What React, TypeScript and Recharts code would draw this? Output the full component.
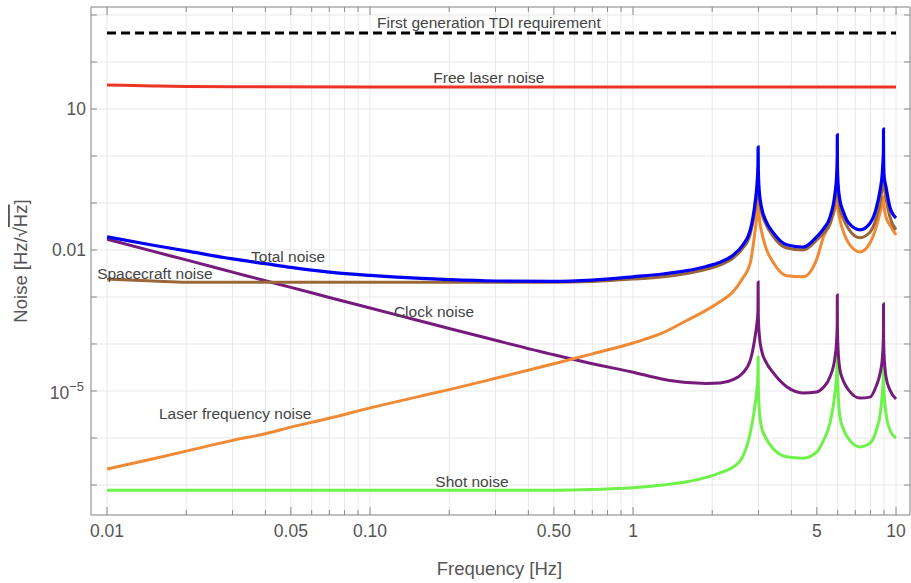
import React from 'react';
import {
  LineChart,
  Line,
  XAxis,
  YAxis,
  CartesianGrid,
  ReferenceDot,
} from 'recharts';

// frequency grid (Hz) shared by the noise curves
const freqs = [
  0.01, 0.015, 0.02, 0.03, 0.04, 0.05, 0.07, 0.1, 0.15, 0.2, 0.3,
  0.5, 0.7, 1, 1.3, 1.6, 1.9, 2.14, 2.4, 2.6, 2.79,
  2.91, 2.96, 2.985, 2.99, 2.995, 3.02, 3.08, 3.2, 3.4, 3.84,
  4.43, 4.99, 5.3, 5.61, 5.86, 5.94, 5.975, 5.98, 5.985, 6.02,
  6.12, 6.3, 6.6, 7.3, 7.96, 8.4, 8.7, 8.87, 8.94, 8.955,
  8.96, 8.965, 9.0, 9.16, 9.48, 10,
];

const totalNoise = [
  0.019, 0.0126, 0.00955, 0.00646, 0.00513, 0.00427, 0.00339, 0.00288, 0.00251, 0.00234, 0.00219,
  0.00214, 0.00229, 0.00269, 0.00309, 0.00363, 0.00447, 0.0055, 0.00776, 0.0123, 0.0263,
  0.1, 0.251, 0.631, 1.55, 0.501, 0.178, 0.0813, 0.0417, 0.024, 0.0129,
  0.0115, 0.019, 0.0282, 0.0501, 0.162, 0.355, 0.794, 2.82, 0.708, 0.251,
  0.115, 0.0661, 0.038, 0.0269, 0.0372, 0.0759, 0.191, 0.447, 1.0, 1.26,
  3.72, 1.12, 0.398, 0.219, 0.0813, 0.0479,
];

const spacecraftNoise = [
  0.0024, 0.00219, 0.00207, 0.00206, 0.00206, 0.00206, 0.00206, 0.00206, 0.00206, 0.00206, 0.00206,
  0.00206, 0.00214, 0.0024, 0.00269, 0.00316, 0.00389, 0.00479, 0.00676, 0.0105, 0.0219,
  0.0708, 0.158, 0.282, 0.339, 0.251, 0.126, 0.0646, 0.0355, 0.02, 0.011,
  0.01, 0.0162, 0.0229, 0.0355, 0.115, 0.251, 0.562, 0.912, 0.501, 0.178,
  0.0759, 0.0468, 0.0282, 0.0182, 0.024, 0.0468, 0.105, 0.251, 0.501, 0.708,
  0.912, 0.562, 0.251, 0.129, 0.0501, 0.0269,
];

const clockNoise = [
  0.017, 0.00933, 0.00617, 0.00339, 0.00221, 0.0016, 0.000977, 0.000582, 0.000324, 0.000214, 0.00012,
  5.89e-5, 3.8e-5, 2.51e-5, 1.78e-5, 1.51e-5, 1.45e-5, 1.48e-5, 1.74e-5, 2.34e-5, 4.47e-5,
  1.41e-4, 2.82e-4, 5.01e-4, 2.09e-3, 3.98e-4, 1.58e-4, 7.41e-5, 4.17e-5, 2.51e-5, 1.23e-5,
  9.12e-6, 9.55e-6, 1.2e-5, 2e-5, 5.25e-5, 1.12e-4, 2.51e-4, 1.1e-3, 2.24e-4, 7.94e-5,
  2.82e-5, 1.66e-5, 1.05e-5, 7.08e-6, 7.41e-6, 1.26e-5, 2.4e-5, 5.01e-5, 1.12e-4, 2e-4,
  7.08e-4, 1.78e-4, 6.31e-5, 2e-5, 1.05e-5, 6.76e-6,
];

const laserFreqNoise = [
  2.19e-7, 3.63e-7, 5.25e-7, 8.91e-7, 1.23e-6, 1.7e-6, 2.63e-6, 4.37e-6, 7.41e-6, 1.07e-5, 1.86e-5,
  3.8e-5, 6.17e-5, 1.05e-4, 1.74e-4, 3.16e-4, 5.25e-4, 7.94e-4, 1.29e-3, 2.4e-3, 5.25e-3,
  0.0251, 0.0562, 0.105, 0.135, 0.1, 0.0501, 0.0251, 0.0112, 5.62e-3, 2.82e-3,
  2.69e-3, 6.31e-3, 0.0191, 0.0372, 0.0759, 0.105, 0.126, 0.135, 0.112, 0.0759,
  0.0437, 0.0251, 0.0141, 9.12e-3, 0.0141, 0.0302, 0.0631, 0.1, 0.12, 0.132,
  0.135, 0.12, 0.0891, 0.0501, 0.0339, 0.0209,
];

const shotNoise = [
  7.76e-8, 7.76e-8, 7.76e-8, 7.76e-8, 7.76e-8, 7.76e-8, 7.76e-8, 7.76e-8, 7.76e-8, 7.76e-8, 7.76e-8,
  7.76e-8, 8.0e-8, 8.7e-8, 1.0e-7, 1.17e-7, 1.45e-7, 1.82e-7, 2.4e-7, 3.8e-7, 1.26e-6,
  5.0e-6, 1.12e-5, 2.51e-5, 5.25e-5, 1.26e-5, 3.98e-6, 1.7e-6, 1e-6, 6.03e-7, 3.98e-7,
  3.72e-7, 5.01e-7, 8.91e-7, 2.09e-6, 9.12e-6, 2e-5, 4.47e-5, 7.94e-5, 3.16e-5, 1e-5,
  2.82e-6, 1.58e-6, 9.55e-7, 6.46e-7, 7.76e-7, 1.41e-6, 3.16e-6, 8.91e-6, 1.78e-5, 2.82e-5,
  4.57e-5, 2.51e-5, 1e-5, 3.39e-6, 1.48e-6, 1e-6,
];

// flat curves have their own sparse grids
const laserFreqs = [0.01, 0.015, 0.02, 0.03, 0.1, 1, 10];
const freeLaserNoise = [32.4, 31, 30.2, 29.7, 29.5, 29.5, 29.5];
const tdiFreqs = [0.01, 10];
const tdiRequirement = [414, 414];

const majorX = [0.01, 0.05, 0.1, 0.5, 1, 5, 10];
const minorX = [
  0.02, 0.03, 0.04, 0.06, 0.07, 0.08, 0.09,
  0.2, 0.3, 0.4, 0.6, 0.7, 0.8, 0.9,
  2, 3, 4, 6, 7, 8, 9,
];
const xTicks = [...majorX, ...minorX].sort((a, b) => a - b);
const xLabels: Record<string, string> = {
  '0.01': '0.01', '0.05': '0.05', '0.1': '0.10', '0.5': '0.50', '1': '1', '5': '5', '10': '10',
};
const yTicks = [1e-7, 1e-6, 1e-5, 1e-4, 1e-3, 0.01, 0.1, 1, 10, 100, 1000];

const notes = [
  { f: 0.283, v: 676, text: 'First generation TDI requirement' },
  { f: 0.283, v: 46, text: 'Free laser noise' },
  { f: 0.0488, v: 0.0071, text: 'Total noise' },
  { f: 0.0152, v: 0.0032, text: 'Spacecraft noise' },
  { f: 0.175, v: 5e-4, text: 'Clock noise' },
  { f: 0.0307, v: 3.4e-6, text: 'Laser frequency noise' },
  { f: 0.244, v: 1.2e-7, text: 'Shot noise' },
];

const data = freqs.map((f, i) => ({
  f,
  total: totalNoise[i],
  spacecraft: spacecraftNoise[i],
  clock: clockNoise[i],
  laserFreq: laserFreqNoise[i],
  shot: shotNoise[i],
}));
const laserData = laserFreqs.map((f, i) => ({ f, free: freeLaserNoise[i] }));
const tdiData = tdiFreqs.map((f, i) => ({ f, tdi: tdiRequirement[i] }));

const FONT = '"Liberation Sans", Arial, Helvetica, sans-serif';
const AXIS = '#8c8c8c';
const TEXT = '#555';

const BottomTick = (props: any) => {
  const { x, y, payload } = props;
  const major = majorX.includes(payload.value);
  return (
    <g>
      <line x1={x} x2={x} y1={y} y2={y - (major ? 8 : 5)} stroke={AXIS} />
      {major && (
        <text x={x} y={y + 22} textAnchor="middle" fontSize={17.5} fill={TEXT} fontFamily={FONT}>
          {xLabels[String(payload.value)]}
        </text>
      )}
    </g>
  );
};

const TopTick = (props: any) => {
  const { x, y, payload } = props;
  const major = majorX.includes(payload.value);
  return <line x1={x} x2={x} y1={y} y2={y + (major ? 8 : 5)} stroke={AXIS} />;
};

const LeftTick = (props: any) => {
  const { x, y, payload } = props;
  const v = payload.value;
  let label: React.ReactNode = null;
  if (v === 10 || v === 0.01) {
    label = (
      <text x={x - 5} y={y + 6} textAnchor="end" fontSize={17.5} fill={TEXT} fontFamily={FONT}>
        {v === 10 ? '10' : '0.01'}
      </text>
    );
  } else if (v === 1e-5) {
    label = (
      <text x={x - 7} y={y + 8} textAnchor="end" fontSize={17.5} fill={TEXT} fontFamily={FONT}>
        <tspan>10</tspan>
        <tspan dy={-8} fontSize={13}>−5</tspan>
      </text>
    );
  }
  return (
    <g>
      <line x1={x} x2={x + 6} y1={y} y2={y} stroke={AXIS} />
      {label}
    </g>
  );
};

const RightTick = (props: any) => {
  const { x, y } = props;
  return <line x1={x} x2={x - 6} y1={y} y2={y} stroke={AXIS} />;
};

const YTitle = (props: any) => {
  const { viewBox } = props;
  const cx = viewBox.x + 20;
  const cy = viewBox.y + viewBox.height / 2;
  return (
    <text
      x={cx}
      y={cy}
      transform={`rotate(-90 ${cx} ${cy})`}
      textAnchor="middle"
      dominantBaseline="central"
      fontSize={18.5}
      fill={TEXT}
      fontFamily={FONT}
    >
      <tspan>Noise [Hz/</tspan>
      <tspan>√</tspan>
      <tspan style={{ textDecoration: 'overline' }}>Hz</tspan>
      <tspan>]</tspan>
    </text>
  );
};

const XTitle = (props: any) => {
  const { viewBox } = props;
  return (
    <text
      x={viewBox.x + viewBox.width / 2 - 1}
      y={viewBox.y + 60}
      textAnchor="middle"
      fontSize={18.5}
      fill={TEXT}
      fontFamily={FONT}
    >
      Frequency [Hz]
    </text>
  );
};

export default function App() {
  return (
    <div style={{ position: 'absolute', left: 0, top: 0, width: 911, height: 583, background: '#fff' }}>
      <LineChart
        width={911}
        height={583}
        data={data}
        margin={{ top: 6, right: 0, bottom: 0, left: 0 }}
        style={{ fontFamily: FONT }}
      >
        <CartesianGrid stroke="#e8e8e8" strokeWidth={1} />
        <XAxis
          dataKey="f"
          type="number"
          scale="log"
          domain={[0.00869, 11.3]}
          allowDataOverflow
          ticks={xTicks}
          interval={0}
          height={68}
          tickSize={0}
          tickMargin={0}
          tickLine={false}
          axisLine={{ stroke: AXIS }}
          tick={<BottomTick />}
          label={<XTitle />}
        />
        <XAxis
          xAxisId="top"
          orientation="top"
          dataKey="f"
          type="number"
          scale="log"
          domain={[0.00869, 11.3]}
          allowDataOverflow
          ticks={xTicks}
          interval={0}
          height={1}
          tickSize={0}
          tickMargin={0}
          tickLine={false}
          axisLine={{ stroke: AXIS }}
          tick={<TopTick />}
        />
        <YAxis
          type="number"
          scale="log"
          domain={[2.3e-8, 1479]}
          allowDataOverflow
          ticks={yTicks}
          interval={0}
          width={91}
          tickSize={0}
          tickMargin={0}
          tickLine={false}
          axisLine={{ stroke: AXIS }}
          tick={<LeftTick />}
          label={<YTitle />}
        />
        <YAxis
          yAxisId="right"
          orientation="right"
          type="number"
          scale="log"
          domain={[2.3e-8, 1479]}
          allowDataOverflow
          ticks={yTicks}
          interval={0}
          width={1}
          tickSize={0}
          tickMargin={0}
          tickLine={false}
          axisLine={{ stroke: AXIS }}
          tick={<RightTick />}
        />
        <Line data={tdiData} dataKey="tdi" type="linear" stroke="#000" strokeWidth={3} strokeDasharray="9 5" dot={false} isAnimationActive={false} />
        <Line data={laserData} dataKey="free" type="monotone" stroke="#ec3326" strokeWidth={3} dot={false} isAnimationActive={false} />
        <Line dataKey="shot" type="monotone" stroke="#6ef24a" strokeWidth={3} dot={false} isAnimationActive={false} />
        <Line dataKey="clock" type="monotone" stroke="#761a7c" strokeWidth={3} dot={false} isAnimationActive={false} />
        <Line dataKey="laserFreq" type="monotone" stroke="#f08a35" strokeWidth={3} dot={false} isAnimationActive={false} />
        <Line dataKey="spacecraft" type="monotone" stroke="#9a6838" strokeWidth={3} dot={false} isAnimationActive={false} />
        <Line dataKey="total" type="monotone" stroke="#0000f5" strokeWidth={3.2} dot={false} isAnimationActive={false} />
        {notes.map((n) => (
          <ReferenceDot
            key={n.text}
            x={n.f}
            y={n.v}
            r={0}
            shape={(p: any) => (
              <text
                x={p.cx}
                y={p.cy}
                textAnchor="middle"
                dominantBaseline="central"
                fontSize={15.5}
                fill="#444"
                fontFamily={FONT}
              >
                {n.text}
              </text>
            )}
          />
        ))}
      </LineChart>
    </div>
  );
}
